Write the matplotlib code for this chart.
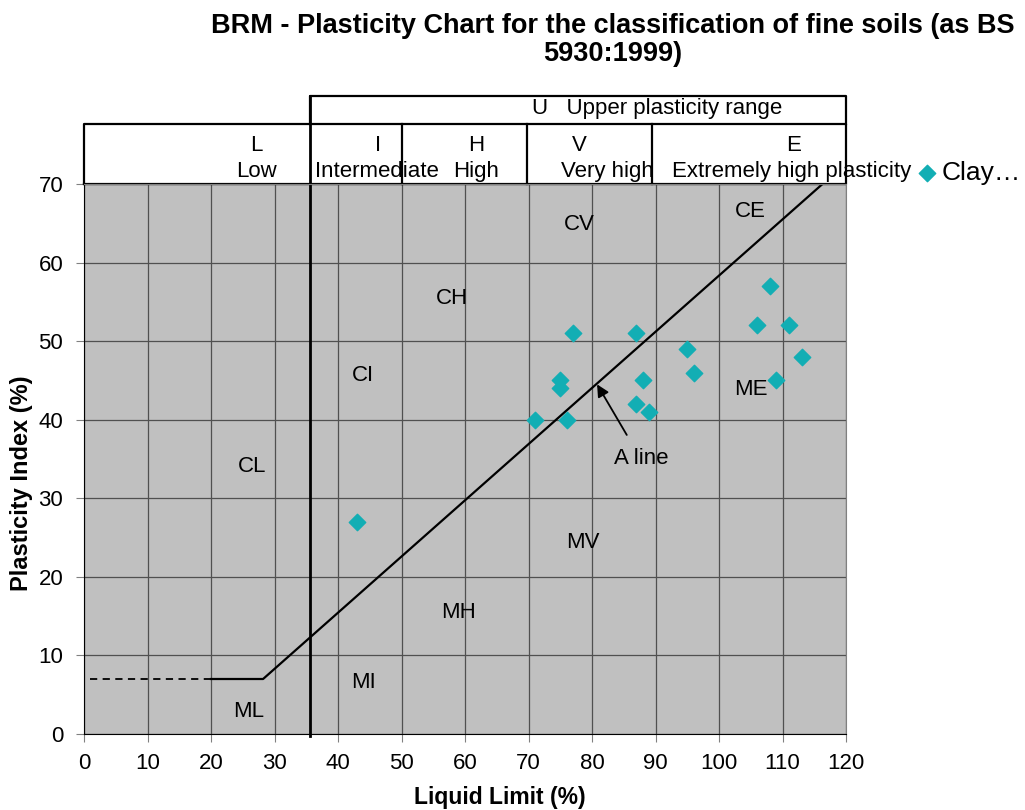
import matplotlib
matplotlib.use('Agg')
import matplotlib.pyplot as plt

plt.rcParams['font.family'] = ['Liberation Sans', 'DejaVu Sans']

# measured soil samples
liquid_limit = [43, 71, 75, 75, 76, 77, 87, 88, 87, 89, 95, 96, 106, 108, 111, 109, 113]
plasticity_index = [27, 40, 45, 44, 40, 51, 51, 45, 42, 41, 49, 46, 52, 57, 52, 45, 48]

# A line: PI = 0.73 (LL - 20), with the flat part at PI = 7
a_line_x = [20, 28.2, 116.3]
a_line_y = [7, 7, 70]
dash_x = [1, 20]
dash_y = [7, 7]

zone_names = ['CV', 'CE', 'CH', 'CI', 'CL', 'MV', 'MH', 'MI', 'ML', 'ME']
zone_x = [78, 105, 58, 44, 26.5, 78.5, 59, 44, 26, 105]
zone_y = [64.8, 66.5, 55.4, 45.6, 34, 24.4, 15.4, 6.6, 2.9, 43.8]

range_edges = [35.6, 50, 69.7, 89.4, 120]

FS = 16

fig = plt.figure(figsize=(10.25, 8.1), dpi=100)
ax = fig.add_axes([84/1025, 76/810, 762/1025, 550/810])
ax.set_facecolor('#C0C0C0')
ax.set_xlim(0, 120)
ax.set_ylim(0, 70)
ax.set_xticks(range(0, 121, 10))
ax.set_yticks(range(0, 71, 10))
ax.grid(True, color='#505050', linewidth=0.9)
ax.set_axisbelow(True)
ax.tick_params(axis='x', labelsize=FS, color='#808080', length=6, pad=8)
ax.tick_params(axis='y', labelsize=FS, color='#808080', length=6, pad=9)
for s in ['top', 'right']:
    ax.spines[s].set_color('#808080')
for s in ['left', 'bottom']:
    ax.spines[s].set_color('black')

ax.plot(dash_x, dash_y, color='black', linestyle=(0, (4, 3)), linewidth=1.3)
ax.plot(a_line_x, a_line_y, color='black', linewidth=1.6)

ax.scatter(liquid_limit, plasticity_index, marker='D', s=70, color='#12AEB4',
           zorder=5, label='Clay…', clip_on=False)

for name, x, y in zip(zone_names, zone_x, zone_y):
    ax.text(x, y, name, fontsize=FS, ha='center', va='center')

ax.annotate('A line', xy=(80.8, 44.5), xytext=(87.7, 35), fontsize=FS,
            ha='center', va='center',
            arrowprops=dict(arrowstyle='-|>', color='black', lw=1.3,
                            shrinkA=9, shrinkB=0, mutation_scale=18))

# header boxes above the plot (data coordinates, outside the axes)
y0, y1, y2 = 70, 77.64, 81.2
kw = dict(color='black', linewidth=1.6, clip_on=False)
ax.plot([0, 120, 120, 0, 0], [y0, y0, y1, y1, y0], **kw)
ax.plot([35.6, 35.6, 120, 120], [y1, y2, y2, y1], **kw)
ax.plot([35.6, 35.6], [-0.3, y2], color='black', linewidth=2, clip_on=False)
for e in range_edges[1:-1]:
    ax.plot([e, e], [y0, y1], **kw)

row1, row2 = 74.85, 71.65
tk = dict(fontsize=FS, ha='center', va='center', clip_on=False)
ax.text(70.5, 79.6, 'U   Upper plasticity range', ha='left', va='center', fontsize=FS)
ax.text(27.1, row1, 'L', **tk)
ax.text(27.1, row2, 'Low', **tk)
ax.text(46.3, row1, 'I', **tk)
ax.text(36.4, row2, 'Intermediate', fontsize=FS, ha='left', va='center')
ax.text(61.7, row1, 'H', **tk)
ax.text(61.7, row2, 'High', **tk)
ax.text(78, row1, 'V', **tk)
ax.text(82.4, row2, 'Very high', **tk)
ax.text(111.7, row1, 'E', **tk)
ax.text(92.6, row2, 'Extremely high plasticity', fontsize=FS, ha='left', va='center')

leg = ax.legend(loc='center left', bbox_to_anchor=(1.075, 1.02), frameon=False,
                fontsize=19, handletextpad=0.05, handlelength=1.0, borderaxespad=0)

ax.set_xlabel('Liquid Limit (%)', fontsize=16.5, fontweight='bold')
ax.xaxis.set_label_coords(0.546, -0.095)
ax.set_ylabel('Plasticity Index (%)', fontsize=17, fontweight='bold')
ax.yaxis.set_label_coords(-0.067, 0.456)

fig.text(0.598, 0.951, 'BRM - Plasticity Chart for the classification of fine soils (as BS\n5930:1999)',
         ha='center', va='center', fontsize=19.5, fontweight='bold',
         linespacing=1.1)

fig.savefig('out.png', dpi=100)
